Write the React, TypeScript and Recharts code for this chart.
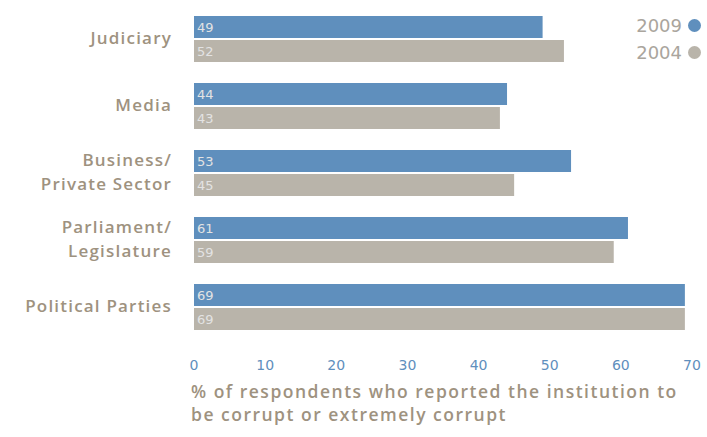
import { BarChart, Bar, XAxis, YAxis, LabelList } from "recharts";

const institutions = [
  "Judiciary",
  "Media",
  "Business/\nPrivate Sector",
  "Parliament/\nLegislature",
  "Political Parties",
];
const values2009 = [49, 44, 53, 61, 69];
const values2004 = [52, 43, 45, 59, 69];
const xTicks = [0, 10, 20, 30, 40, 50, 60, 70];
const axisTitle = [
  "% of respondents who reported the institution to",
  "be corrupt or extremely corrupt",
];
const legendItems = ["2009", "2004"];

const data = institutions.map((name, i) => ({
  name,
  y2009: values2009[i],
  y2004: values2004[i],
}));

const BLUE = "#5f8fbd";
const GREY = "#b9b4aa";
const TEXT = "#9e927f";
const FONT = "'DejaVu Sans', sans-serif";
const LABEL_FONT = "'Open Sans', sans-serif";

function CategoryTick(props: any) {
  const { x, y, payload } = props;
  const lines = String(payload.value).split("\n");
  const lh = 24;
  const start = y - ((lines.length - 1) * lh) / 2;
  return (
    <text
      x={x}
      y={start}
      textAnchor="end"
      fill={TEXT}
      fontSize={17}
      fontWeight={600}
      letterSpacing={1.2}
      fontFamily={LABEL_FONT}
    >
      {lines.map((l, i) => (
        <tspan key={i} x={x} y={start + i * lh} dy="0.35em">
          {l}
        </tspan>
      ))}
    </text>
  );
}

function AxisTitle(props: any) {
  const { viewBox } = props;
  const x = viewBox.x - 3;
  const y = viewBox.y + 58;
  return (
    <text
      x={x}
      y={y}
      fill={TEXT}
      fontSize={17.5}
      fontWeight={600}
      letterSpacing={1.5}
      fontFamily={LABEL_FONT}
    >
      {axisTitle.map((l, i) => (
        <tspan key={i} x={x} y={y + i * 23}>
          {l}
        </tspan>
      ))}
    </text>
  );
}

function LegendBox() {
  const colors = [BLUE, GREY];
  return (
    <div
      style={{
        position: "absolute",
        top: 12,
        right: 6,
        fontFamily: FONT,
        fontSize: 18,
        color: "#aaa59d",
      }}
    >
      {legendItems.map((label, i) => (
        <div
          key={label}
          style={{ display: "flex", alignItems: "center", justifyContent: "flex-end", height: 27 }}
        >
          <span>{label}</span>
          <span
            style={{
              display: "inline-block",
              width: 13,
              height: 13,
              borderRadius: "50%",
              background: colors[i],
              marginLeft: 6,
            }}
          />
        </div>
      ))}
    </div>
  );
}

export default function App() {
  return (
    <div style={{ position: "relative", width: 707, height: 437, background: "#fff" }}>
      <style>{"body{margin:0}"}</style>
      <BarChart
        width={707}
        height={437}
        data={data}
        layout="vertical"
        margin={{ top: 5, right: 15, bottom: 0, left: 0 }}
        barGap={2}
        barCategoryGap={20}
      >
        <XAxis
          type="number"
          domain={[0, 70]}
          ticks={xTicks}
          axisLine={false}
          tickLine={false}
          height={97}
          tickMargin={14}
          tick={{ fill: BLUE, fontSize: 14, fontFamily: FONT }}
          label={{ content: AxisTitle }}
        />
        <YAxis
          type="category"
          dataKey="name"
          width={194}
          axisLine={false}
          tickLine={false}
          tickMargin={16}
          tick={<CategoryTick />}
        />
        <Bar dataKey="y2009" fill={BLUE} barSize={22} isAnimationActive={false}>
          <LabelList
            dataKey="y2009"
            position="insideLeft"
            offset={3}
            fill="#e3e3e3"
            fontSize={13}
            fontFamily={FONT}
          />
        </Bar>
        <Bar dataKey="y2004" fill={GREY} barSize={22} isAnimationActive={false}>
          <LabelList
            dataKey="y2004"
            position="insideLeft"
            offset={3}
            fill="#e3e3e3"
            fontSize={13}
            fontFamily={FONT}
          />
        </Bar>
      </BarChart>
      <LegendBox />
    </div>
  );
}
